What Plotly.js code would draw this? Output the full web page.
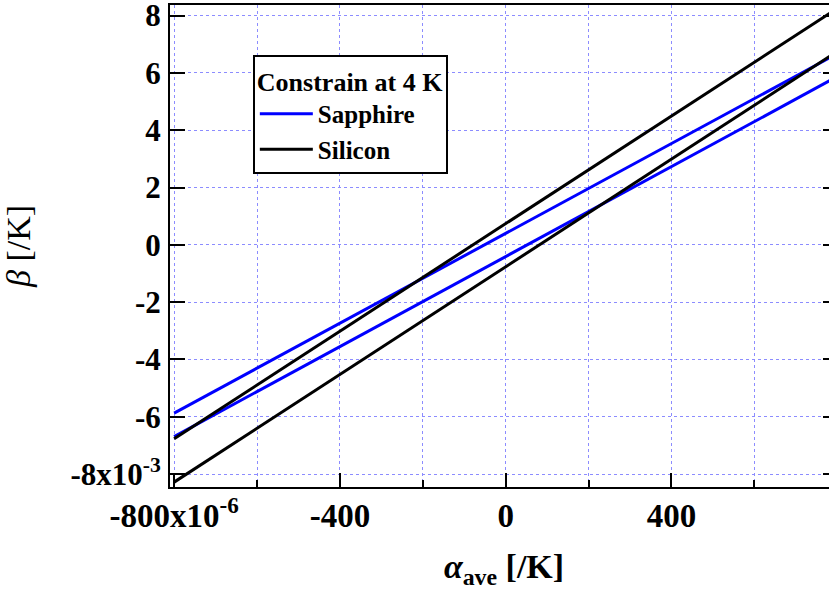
<!DOCTYPE html>
<html>
<head>
<meta charset="utf-8">
<script src="https://cdn.plot.ly/plotly-3.0.1.min.js"></script>
<style>
html,body{margin:0;padding:0;overflow:hidden;background:#fff;width:829px;height:590px;}
#chart{width:840px;height:590px;}
</style>
</head>
<body>
<div id="chart"></div>
<script>
// alpha_ave in units of 1e-6 /K, beta in units of 1e-3 /K
const alphaEnds = [-800, 800];
const sapphireUpper = [-5.87, 6.67];
const sapphireLower = [-6.69, 5.87];
const siliconUpper = [-6.77, 8.25];
const siliconLower = [-8.28, 6.75];

const xTickVals = [-800, -400, 0, 400];
const xTickText = ['-800x10<sup>-6</sup>', '-400', '0', '400'];
const xMinorVals = [-600, -200, 200, 600];
const yTickVals = [-8, -6, -4, -2, 0, 2, 4, 6, 8];
const yTickText = ['-8x10<sup>-3</sup>', '-6', '-4', '-2', '0', '2', '4', '6', '8'];

const serif = '"Liberation Serif", "Times New Roman", serif';
const gridCol = '#8c8cff';

const traces = [
  {x: alphaEnds, y: sapphireUpper, mode: 'lines', name: 'Sapphire', legendgroup: 's',
   line: {color: '#0000ff', width: 3}},
  {x: alphaEnds, y: sapphireLower, mode: 'lines', name: 'Sapphire', legendgroup: 's', showlegend: false,
   line: {color: '#0000ff', width: 3}},
  {x: alphaEnds, y: siliconUpper, mode: 'lines', name: 'Silicon', legendgroup: 'si',
   line: {color: '#000000', width: 3}},
  {x: alphaEnds, y: siliconLower, mode: 'lines', name: 'Silicon', legendgroup: 'si', showlegend: false,
   line: {color: '#000000', width: 3}}
];

const layout = {
  width: 840, height: 590,
  margin: {l: 170, r: 2, t: 5, b: 103},
  paper_bgcolor: '#fff', plot_bgcolor: '#fff',
  font: {family: serif, color: '#000'},
  showlegend: true,
  legend: {
    x: 0.124, y: 0.896, xanchor: 'left', yanchor: 'top',
    bgcolor: '#fff', bordercolor: '#000', borderwidth: 2,
    font: {family: serif, size: 25, weight: 'bold', color: '#000'},
    title: {text: 'Constrain at 4 K', font: {family: serif, size: 26, weight: 'bold', color: '#000'}},
    itemwidth: 53,
    tracegroupgap: 0
  },
  xaxis: {
    range: [-810, 802],
    tickmode: 'array', tickvals: xTickVals, ticktext: xTickText,
    ticks: 'inside', ticklen: 14, tickwidth: 2, tickcolor: '#000',
    showline: true, linewidth: 2, linecolor: '#000', mirror: true,
    showgrid: true, gridcolor: gridCol, griddash: 'dot', gridwidth: 1,
    zeroline: false,
    tickfont: {family: serif, size: 33, weight: 'bold', color: '#000'},
    ticklabelstandoff: -2,
    ticklabeloverflow: 'allow',
    minor: {tickmode: 'array', tickvals: xMinorVals, ticks: 'inside', ticklen: 7, tickwidth: 2, tickcolor: '#000',
            showgrid: true, gridcolor: gridCol, griddash: 'dot', gridwidth: 1},
    title: {text: '<i>α</i><sub>ave</sub> [/K]', font: {family: serif, size: 34, weight: 'bold', color: '#000'}, standoff: 27}
  },
  yaxis: {
    range: [-8.45, 8.37],
    tickmode: 'array', tickvals: yTickVals, ticktext: yTickText,
    ticks: 'inside', ticklen: 15, tickwidth: 2, tickcolor: '#000',
    showline: true, linewidth: 2, linecolor: '#000', mirror: 'ticks',
    showgrid: true, gridcolor: gridCol, griddash: 'dot', gridwidth: 1,
    zeroline: false,
    tickfont: {family: serif, size: 31, weight: 'bold', color: '#000'},
    ticklabelstandoff: 1,
    ticklabeloverflow: 'allow',
    title: {text: '<i>β</i> [/K]', font: {family: serif, size: 34, color: '#000'}, standoff: 30}
  }
};

Plotly.newPlot('chart', traces, layout, {displayModeBar: false, staticPlot: true});
</script>
</body>
</html>
